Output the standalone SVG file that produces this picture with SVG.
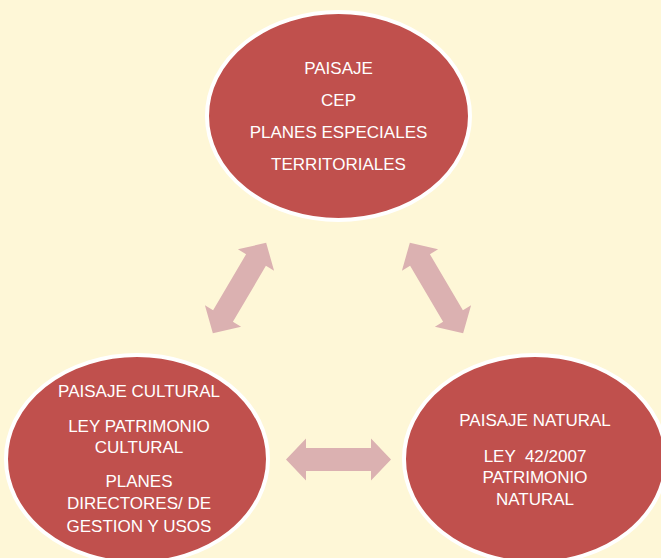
<svg xmlns="http://www.w3.org/2000/svg" width="661" height="558" viewBox="0 0 661 558">
<defs>
<style>
.node ellipse{fill:#C0504D;stroke:#FFFFFF;stroke-width:4}
.node text{font-family:"Liberation Sans",Arial,sans-serif;font-size:17px;fill:#FFFFFF;text-anchor:middle}
.arrow{fill:#DBB1B1}
</style>
<path id="dbl" d="M -52.5,0 L -32.5,-21 L -32.5,-11.5 L 32.5,-11.5 L 32.5,-21 L 52.5,0 L 32.5,21 L 32.5,11.5 L -32.5,11.5 L -32.5,21 Z"/>
</defs>
<rect width="661" height="558" fill="#FEF7D7"/>
<g id="connectors">
<use href="#dbl" class="arrow" transform="translate(239.5,288) rotate(-59.5)"/>
<use href="#dbl" class="arrow" transform="translate(436.5,288) rotate(59.5)"/>
<use href="#dbl" class="arrow" transform="translate(338.5,459.5)"/>
</g>
<g id="node-top" class="node">
<ellipse cx="338.5" cy="116" rx="131.5" ry="104"/>
<text x="338.5" y="74">PAISAJE</text>
<text x="338.5" y="106">CEP</text>
<text x="338.5" y="138">PLANES ESPECIALES</text>
<text x="338.5" y="170">TERRITORIALES</text>
</g>
<g id="node-left" class="node">
<ellipse cx="137" cy="459" rx="131" ry="104"/>
<text x="139" y="397">PAISAJE CULTURAL</text>
<text x="139" y="432">LEY PATRIMONIO</text>
<text x="139" y="453">CULTURAL</text>
<text x="139" y="487">PLANES</text>
<text x="139" y="509">DIRECTORES/ DE</text>
<text x="139" y="532">GESTION Y USOS</text>
</g>
<g id="node-right" class="node">
<ellipse cx="535" cy="459" rx="131" ry="104"/>
<text x="535" y="426">PAISAJE NATURAL</text>
<text x="535" y="462" xml:space="preserve">LEY  42/2007</text>
<text x="535" y="483">PATRIMONIO</text>
<text x="535" y="505">NATURAL</text>
</g>
</svg>
